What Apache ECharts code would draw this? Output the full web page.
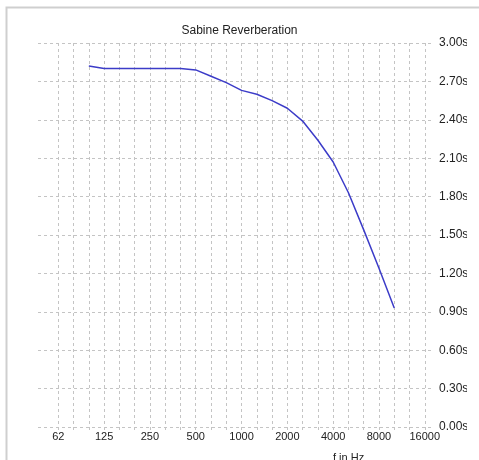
<!DOCTYPE html>
<html>
<head>
<meta charset="utf-8">
<script src="https://cdn.jsdelivr.net/npm/echarts@6/dist/echarts.min.js"></script>
<style>
  html, body { margin: 0; padding: 0; background: #fff; }
  #chart { width: 479px; height: 460px; }
</style>
</head>
<body>
<div id="chart"></div>
<script>
// third-octave bands, only octave ones get a label
const bands = ['62', '80', '100', '125', '160', '200', '250', '315', '400', '500', '630', '800',
    '1000', '1250', '1600', '2000', '2500', '3150', '4000', '5000', '6300', '8000', '10000', '12500', '16000'];
// reverberation time (s) per band, null = not measured
const reverb = [null, null, 2.82, 2.80, 2.80, 2.80, 2.80, 2.80, 2.80, 2.79, 2.74, 2.69,
    2.63, 2.60, 2.55, 2.49, 2.39, 2.24, 2.07, 1.83, 1.54, 1.24, 0.93, null, null];
const yTicks = { min: 0, max: 3, step: 0.3 };

const gridColor = '#c4c4c4';
const dash = [3, 3];

let chart = echarts.init(document.getElementById('chart'), null, { renderer: 'canvas' });
chart.setOption({
    animation: false,
    title: {
        text: 'Sabine Reverberation',
        left: 'center',
        top: 20,
        textStyle: { fontFamily: 'Liberation Sans', fontSize: 12, fontWeight: 'normal', color: '#222' }
    },
    grid: [
        { left: 38, right: 45, top: 43, bottom: 33 },      // horizontal lines + labels
        { left: 58.3, right: 54.2, top: 43, bottom: 33 }   // data + vertical lines
    ],
    xAxis: [{
        gridIndex: 0,
        type: 'value',
        show: false
    }, {
        gridIndex: 1,
        type: 'category',
        data: bands,
        boundaryGap: false,
        axisLine: { show: false },
        axisTick: {
            show: true,
            interval: 0,
            length: 5,
            lineStyle: { color: gridColor, type: dash }
        },
        axisLabel: {
            interval: 2,
            margin: 4,
            fontFamily: 'Liberation Sans',
            fontSize: 11,
            color: '#222'
        },
        splitLine: {
            show: true,
            interval: 0,
            lineStyle: { color: gridColor, type: dash }
        }
    }],
    yAxis: [{
        gridIndex: 0,
        type: 'value',
        position: 'right',
        min: yTicks.min,
        max: yTicks.max,
        interval: yTicks.step,
        axisLine: { show: false },
        axisTick: { show: false },
        axisLabel: {
            margin: 5,
            fontFamily: 'Liberation Sans',
            fontSize: 12,
            color: '#222',
            formatter: v => v.toFixed(2) + 's'
        },
        splitLine: { show: true, lineStyle: { color: gridColor, type: dash } }
    }, {
        gridIndex: 1,
        type: 'value',
        min: yTicks.min,
        max: yTicks.max,
        show: false
    }],
    series: [{
        type: 'line',
        xAxisIndex: 1,
        yAxisIndex: 1,
        data: reverb,
        showSymbol: false,
        smooth: false,
        lineStyle: { color: '#3c3cc8', width: 1.5 }
    }],
    graphic: [{
        // the original panel is cut off on the right, clipping the unit letters
        type: 'rect',
        shape: { x: 467, y: 10, width: 30, height: 460 },
        style: { fill: '#fff' },
        z: 100,
        silent: true
    }, {
        type: 'rect',
        shape: { x: 6.5, y: 7.5, width: 500, height: 500 },
        style: { fill: 'none', stroke: '#cfcfcf', lineWidth: 2 },
        silent: true
    }, {
        type: 'text',
        left: 333,
        top: 452,
        style: { text: 'f in Hz', fontFamily: 'Liberation Sans', fontSize: 11, fill: '#222' }
    }]
});
</script>
</body>
</html>
